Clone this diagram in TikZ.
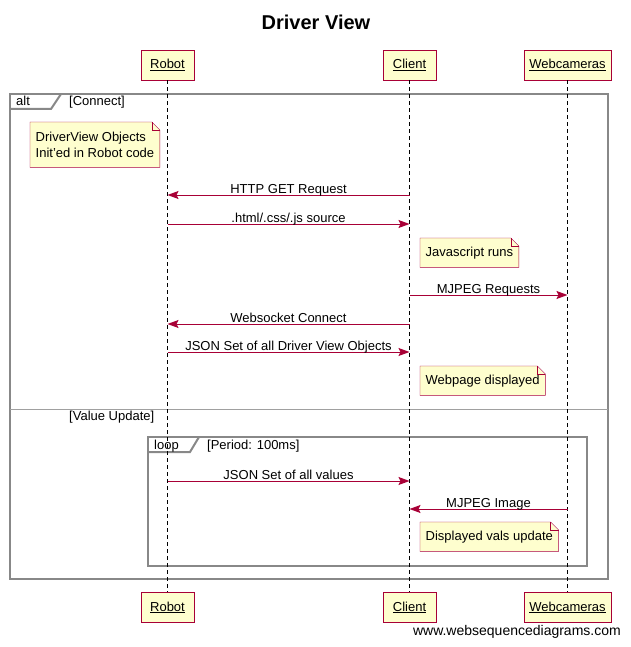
\documentclass[tikz,border=0pt]{standalone}
\usepackage{fontspec}
\setmainfont{Liberation Sans}
\usepackage{tikz}
\usetikzlibrary{arrows.meta,positioning}

\definecolor{wsdred}{HTML}{A80036}
\definecolor{wsdfill}{HTML}{FEFECE}
\definecolor{wsdgray}{HTML}{888888}
\newcommand{\wsdfont}{\fontsize{13}{16}\selectfont}
\newcommand{\dogear}[1]{%
  \draw[wsdred] (#1.north west) -- ([xshift=-8pt]#1.north east) -- ([yshift=-8pt]#1.north east)
    -- (#1.south east) -- (#1.south west) -- cycle;
  \draw[wsdred] ([xshift=-8pt]#1.north east) |- ([yshift=-8pt]#1.north east);}

\tikzset{
  actor/.style={draw=wsdred, fill=wsdfill, minimum width=53pt, minimum height=30pt, inner xsep=5.5pt, font=\wsdfont},
  lifeline/.style={dash pattern=on 4pt off 3pt, line width=1pt},
  msg/.style={draw=wsdred, line width=1pt, -{Stealth[length=11pt,width=8pt,inset=2pt]}},
  msglabel/.style={above, inner sep=0pt, text depth=1pt, font=\wsdfont},
  note/.style={fill=wsdfill, anchor=north west, align=left, inner xsep=5.5pt, minimum height=29pt, font=\wsdfont,
    path picture={\fill[white] ([xshift=-8pt]path picture bounding box.north east)
      -- (path picture bounding box.north east) -- ([yshift=-8pt]path picture bounding box.north east) -- cycle;}},
  frame/.style={draw=wsdgray, line width=2pt},
  framelabel/.style={anchor=base west, inner sep=0pt, font=\wsdfont},
}

\begin{document}
\begin{tikzpicture}[x=1pt, y=-1pt, node distance=512pt]
\useasboundingbox (0,0) rectangle (630,647);

\node[font=\fontsize{20}{24}\selectfont\bfseries] (title) at (316,22) {Driver View};

% frames
\draw[frame] (10,94) rectangle (608,579);
\draw[frame] (10,109) -- (51,109) -- (61,94);
\draw[wsdgray!80, line width=1pt] (10,409) -- (608,409);
\draw[frame] (148,437) rectangle (587,566);
\draw[frame] (148,452) -- (190,452) -- (199,437);
\node[framelabel] (altlabel)  at (16,106)  {alt};
\node[framelabel] (altcond)   at (69,106)  {[Connect]};
\node[framelabel] (altelse)   at (69,420)  {[Value Update]};
\node[framelabel] (looplabel) at (154,449) {loop};
\node[framelabel] (loopcond)  at (207,449) {[Period: 100ms]};

% participants
\node[actor] (Robot)      at (167.5,65) {\underline{Robot}};
\node[actor] (Client)     at (409.5,65) {\underline{Client}};
\node[actor] (Webcameras) at (567.5,65) {\underline{Webcameras}};
\node[actor] (RobotB)      [below=of Robot]      {\underline{Robot}};
\node[actor] (ClientB)     [below=of Client]     {\underline{Client}};
\node[actor] (WebcamerasB) [below=of Webcameras] {\underline{Webcameras}};

\draw[lifeline] (Robot) -- (RobotB);
\draw[lifeline] (Client) -- (ClientB);
\draw[lifeline] (Webcameras) -- (WebcamerasB);

% notes
\node[note, minimum height=45pt] (initnote) at (30,122) {DriverView Objects\\Init'ed in Robot code};
\node[note] (jsnote)   at (420,238) {Javascript runs};
\node[note] (pagenote) at (420,366) {Webpage displayed};
\node[note] (valsnote) at (420,522) {Displayed vals update};
\dogear{initnote}
\dogear{jsnote}
\dogear{pagenote}
\dogear{valsnote}

% messages
\coordinate (m1) at (0,195);
\coordinate (m2) at (0,224);
\coordinate (m3) at (0,295);
\coordinate (m4) at (0,324);
\coordinate (m5) at (0,352);
\coordinate (m6) at (0,481);
\coordinate (m7) at (0,509);

\path (Client |- m1) edge[msg] node[msglabel] {HTTP GET Request} (Robot |- m1)
      (Robot |- m2) edge[msg] node[msglabel] {.html/.css/.js source} (Client |- m2)
      (Client |- m3) edge[msg] node[msglabel] {MJPEG Requests} (Webcameras |- m3)
      (Client |- m4) edge[msg] node[msglabel] {Websocket Connect} (Robot |- m4)
      (Robot |- m5) edge[msg] node[msglabel] {JSON Set of all Driver View Objects} (Client |- m5)
      (Robot |- m6) edge[msg] node[msglabel] {JSON Set of all values} (Client |- m6)
      (Webcameras |- m7) edge[msg] node[msglabel] {MJPEG Image} (Client |- m7);

\node[anchor=base east, inner sep=0pt, font=\fontsize{14}{16}\selectfont] (footer) at (621,635) {www.websequencediagrams.com};
\end{tikzpicture}
\end{document}
